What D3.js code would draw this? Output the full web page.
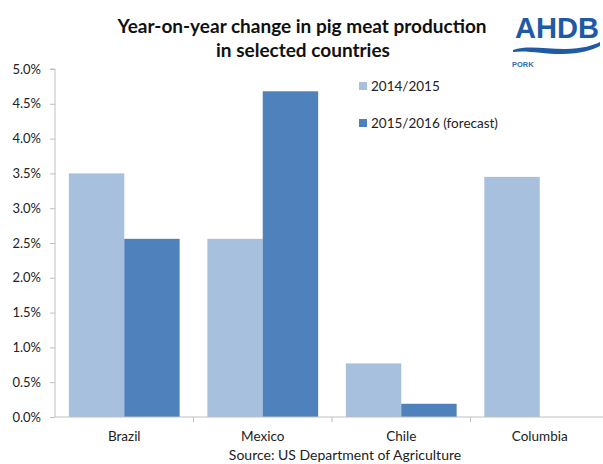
<!DOCTYPE html>
<html><head><meta charset="utf-8">
<script src="https://cdn.jsdelivr.net/npm/d3@7"></script>
<style>body{margin:0;background:#fff}svg{display:block}</style>
</head><body>
<svg id="c" width="603" height="464"></svg>
<script>
const categories = ["Brazil", "Mexico", "Chile", "Columbia"];
const seriesNames = ["2014/2015", "2015/2016 (forecast)"];
const s2014 = [3.5, 2.56, 0.77, 3.45];
const s2015 = [2.56, 4.68, 0.19, null];
const yTicks = [0, 0.5, 1, 1.5, 2, 2.5, 3, 3.5, 4, 4.5, 5];
const colors = ["#A7C0DE", "#4F81BD"];

(function(){
const svg = d3.select("#c");
const font = "Lato, 'Open Sans', sans-serif";
const pL = 55, pR = 609, pT = 69, pB = 417;

const bandX = d3.scaleBand().domain(categories).range([pL, pR]);
const y = d3.scaleLinear().domain([0, 5]).range([pB, pT]);

const series = [s2014, s2015];
series.forEach((s, si) => {
  svg.append("g").selectAll("rect").data(categories.map((c, i) => ({c, v: s[i]})).filter(d => d.v != null))
    .join("rect")
    .attr("x", d => bandX(d.c) + bandX.bandwidth()*0.1 + si * bandX.bandwidth()*0.4)
    .attr("width", bandX.bandwidth()*0.4)
    .attr("y", d => y(d.v))
    .attr("height", d => y(0) - y(d.v))
    .attr("fill", colors[si]);
});

// y axis
const ya = svg.append("g").attr("transform", `translate(${pL},0)`)
  .call(d3.axisLeft(y).tickValues(yTicks).tickSize(5).tickPadding(9).tickFormat(d => d.toFixed(1) + "%"));
ya.select(".domain").attr("stroke", "#BFBFBF").attr("d", `M-5,${pT}H0V${pB}`);
ya.selectAll(".tick line").attr("stroke", "#BFBFBF");
ya.selectAll("text").attr("font-family", font).attr("font-size", 13).attr("fill", "#222");

// x axis
const xa = svg.append("g").attr("transform", `translate(0,${pB})`)
  .call(d3.axisBottom(bandX).tickSize(0).tickPadding(14));
xa.select(".domain").attr("stroke", "#BFBFBF").attr("d", `M${pL},0H${pR}`);
xa.selectAll("text").attr("font-family", font).attr("font-size", 13.5).attr("fill", "#222");
svg.append("g").selectAll("line").data(categories.slice(1)).join("line")
  .attr("x1", d => bandX(d)).attr("x2", d => bandX(d))
  .attr("y1", pB).attr("y2", pB + 5).attr("stroke", "#BFBFBF");

// title
svg.append("text").attr("x", 302).attr("y", 33).attr("text-anchor", "middle")
  .attr("font-family", font).attr("font-weight", "bold").attr("font-size", 19).attr("fill", "#111")
  .text("Year-on-year change in pig meat production");
svg.append("text").attr("x", 303).attr("y", 57).attr("text-anchor", "middle")
  .attr("font-family", font).attr("font-weight", "bold").attr("font-size", 19).attr("fill", "#111")
  .text("in selected countries");

// legend
seriesNames.forEach((n, i) => {
  const ly = 87 + i * 37;
  svg.append("rect").attr("x", 359).attr("y", ly - 5).attr("width", 8).attr("height", 8).attr("fill", colors[i]);
  svg.append("text").attr("x", 371).attr("y", ly + 4).attr("font-family", font).attr("font-size", 13.5).attr("fill", "#222").text(n);
});

// source
svg.append("text").attr("x", 345).attr("y", 460).attr("text-anchor", "middle")
  .attr("font-family", font).attr("font-size", 14).attr("fill", "#222").text("Source: US Department of Agriculture");

// logo
const lg = svg.append("g");
lg.append("text").attr("x", 557).attr("y", 38).attr("text-anchor", "middle")
  .attr("font-family", "'Liberation Sans', Arial, sans-serif").attr("font-weight", "bold").attr("font-size", 29).attr("fill", "#1F5AA6")
  .attr("textLength", 84).attr("lengthAdjust", "spacingAndGlyphs").text("AHDB");
lg.append("path").attr("d", "M513,50 C528,45 545,49 565,49 C582,49 594,45 600,42 L600,46 C592,50 580,54 562,54 C542,54 527,50 513,52 Z")
  .attr("fill", "#1F5AA6");
lg.append("text").attr("x", 512).attr("y", 67).attr("font-family", "'Liberation Sans', Arial, sans-serif")
  .attr("font-weight", "bold").attr("font-size", 7.5).attr("fill", "#2E6DB4").text("PORK");
})();
</script>
</body></html>
